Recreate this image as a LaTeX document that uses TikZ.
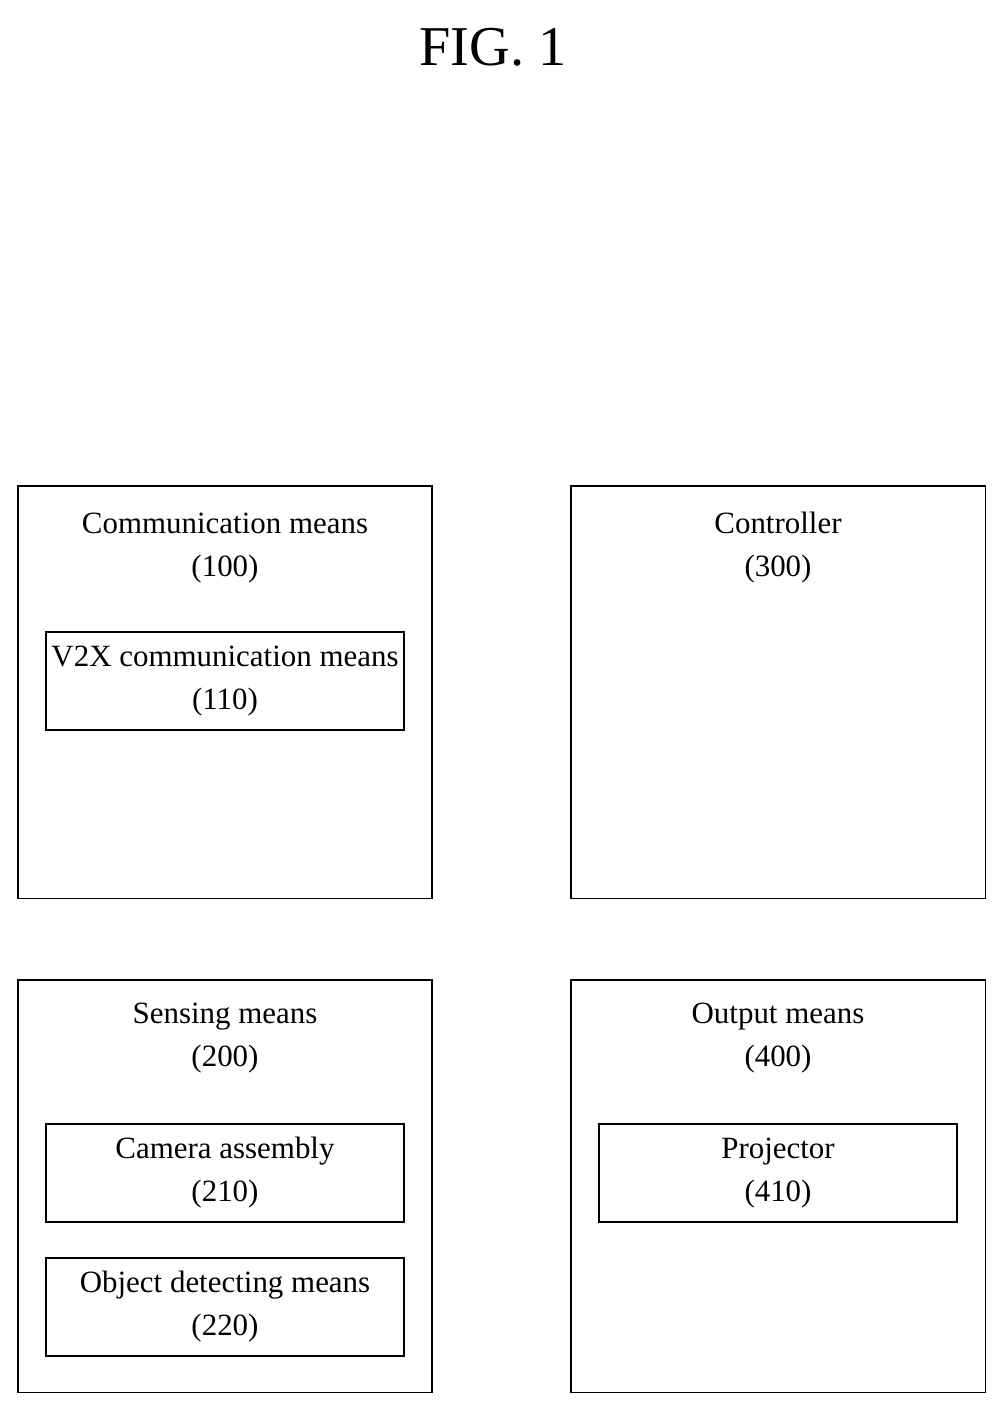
\documentclass[tikz,border=0pt]{standalone}
\usepackage{fontspec}
\setmainfont{Liberation Serif}
\usetikzlibrary{positioning}
\tikzset{
  outerbox/.style={draw, line width=0.8pt, minimum width=10.35cm, minimum height=10.3cm, inner sep=0pt},
  innerbox/.style={draw, line width=0.8pt, minimum width=8.95cm, minimum height=2.45cm, inner sep=0pt, align=center, font=\fontsize{22}{30.6}\selectfont},
  boxtitle/.style={align=center, font=\fontsize{22}{30.6}\selectfont, inner sep=0pt}
}
\begin{document}
\begin{tikzpicture}[x=0.025cm, y=-0.025cm]
		\useasboundingbox (0,0) rectangle (1007,1415);
		\draw (493,47) node [font=\fontsize{40}{40}\selectfont] (fig) {FIG. 1};

		\draw (225,692) node [outerbox] (comm) {};
		\draw (778,692) node [outerbox] (ctrl) {};
		\draw (225,1186) node [outerbox] (sens) {};
		\draw (778,1186) node [outerbox] (outp) {};

		\draw (225,548) node [boxtitle] (commt) {Communication means\\(100)};
		\draw (778,548) node [boxtitle] (ctrlt) {Controller\\(300)};
		\draw (225,1038) node [boxtitle] (senst) {Sensing means\\(200)};
		\draw (778,1038) node [boxtitle] (outpt) {Output means\\(400)};

		\draw (225,681) node [innerbox] (v2x) {V2X communication means\\(110)};
		\draw (225,1173) node [innerbox] (cam) {Camera assembly\\(210)};
		\draw (225,1307) node [innerbox] (obj) {Object detecting means\\(220)};
		\draw (778,1173) node [innerbox] (proj) {Projector\\(410)};
	\end{tikzpicture}
\end{document}
